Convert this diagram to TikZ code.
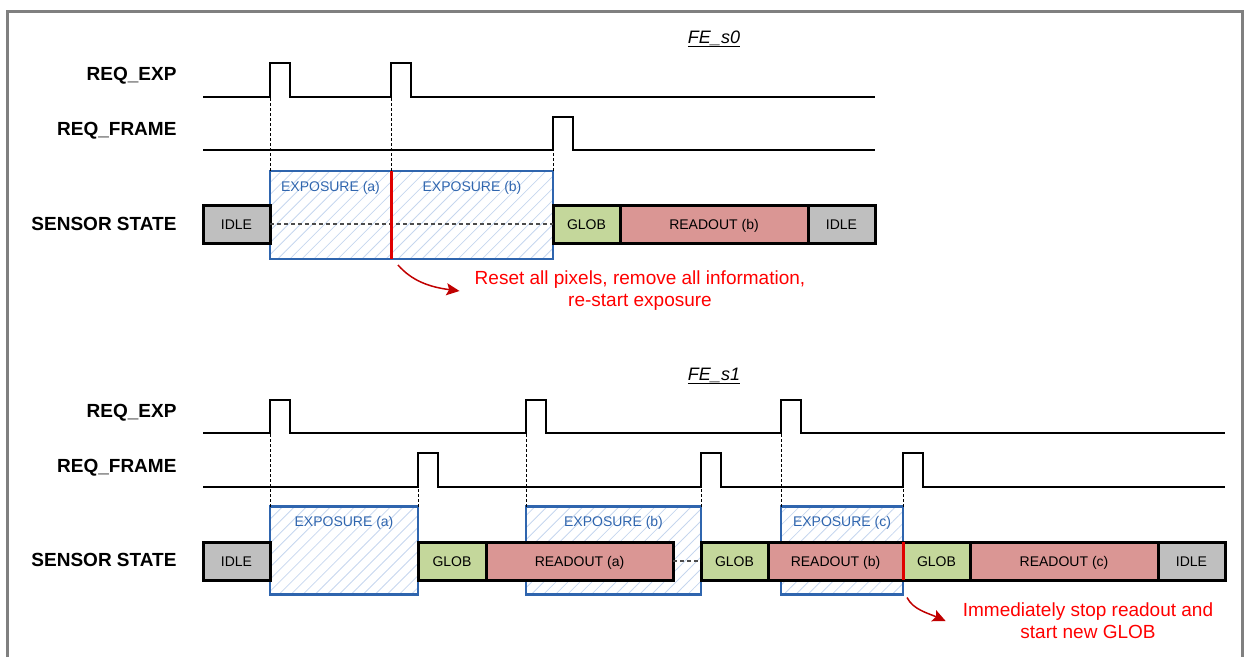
\documentclass[tikz,border=0pt]{standalone}
\usepackage{fontspec}
\setmainfont{Liberation Sans}
\usetikzlibrary{arrows.meta, positioning, patterns.meta}
\definecolor{idlegray}{HTML}{BFBFBF}
\definecolor{globgreen}{HTML}{C4D79B}
\definecolor{rdred}{HTML}{DA9694}
\definecolor{expblue}{HTML}{2F65AE}
\definecolor{hatchblue}{HTML}{C6D6EE}
\definecolor{notered}{HTML}{FF0000}
\definecolor{arrred}{HTML}{C00000}
\definecolor{cutred}{HTML}{E00000}
\definecolor{framegray}{HTML}{808080}

\begin{document}
\begin{tikzpicture}[x=1pt, y=-1pt,
    sig/.style={line width=2pt},
    guide/.style={line width=0.9pt, dash pattern=on 3pt off 2pt},
    midln/.style={line width=1.1pt, draw=black!70, dash pattern=on 4pt off 3pt},
    lbl/.style={font=\fontsize{19}{21}\selectfont\bfseries, anchor=base east},
    ttl/.style={font=\fontsize{18}{20}\selectfont\itshape, anchor=base},
    st/.style={draw, line width=3pt, outer sep=0pt, inner sep=0pt,
               minimum height=38, text height=10pt, text depth=0pt,
               font=\fontsize{14}{16}\selectfont},
    idle/.style={st, fill=idlegray},
    glob/.style={st, fill=globgreen},
    rdout/.style={st, fill=rdred},
    expo/.style={draw=expblue, line width=2.5pt, outer sep=0pt, inner sep=0pt,
                 minimum height=88,
                 pattern={Lines[angle=45, distance=8.5pt, line width=0.8pt]},
                 pattern color=hatchblue},
    explbl/.style={font=\fontsize{14}{16}\selectfont, text=expblue, inner sep=0pt},
    cutln/.style={draw=cutred, line width=3pt},
    note/.style={align=center, text=notered, inner sep=2pt,
                 font=\fontsize{19}{22}\selectfont},
    notearr/.style={draw=arrred, line width=1.5pt,
                    -{Stealth[length=13pt, width=12pt, inset=2.5pt]}}
  ]
  \useasboundingbox (0,0) rectangle (1248,657);
  \draw[framegray, line width=3pt] (7,657) -- (7,11) -- (1242,11) -- (1242,657);

  % FE_s0
  \node[ttl] (tttl) at (714,43) {\underline{FE\_s0}};
  \node[lbl] (tlE) at (180,80) {REQ\_EXP};
  \node[lbl] (tlF) at (180,135) {REQ\_FRAME};
  \node[lbl] (tlS) at (180,230) {SENSOR STATE};

  \coordinate (tE) at (203,97);
  \coordinate (tF) at (203,150);
  \draw[sig] (tE) -| (270,63) -| (290,97) -| (391,63) -| (411,97) -- (875,97);
  \draw[sig] (tF) -| (553,117) -| (573,150) -- (875,150);

  \node[expo, minimum width=121] (texpA) at (330.5,215) {};
  \node[expo, minimum width=162] (texpB) at (472,215) {};
  \node[explbl, below=10pt of texpA.north] {EXPOSURE (a)};
  \node[explbl, below=10pt of texpB.north] {EXPOSURE (b)};

  \draw[guide] (texpA.north west) -- (texpA.north west |- tE);
  \draw[guide] (texpB.north west) -- (texpB.north west |- tE);
  \draw[guide] (texpB.north east) -- (texpB.north east |- tF);

  \node[idle, minimum width=67, anchor=west] (tidle1) at (203,224) {IDLE};
  \node[glob, minimum width=67, anchor=west] (tglob) at (tidle1.east -| texpB.east) {GLOB};
  \node[rdout, minimum width=188, right=0pt of tglob] (trd) {READOUT (b)};
  \node[idle, minimum width=67, right=0pt of trd] (tidle2) {IDLE};
  \draw[midln] (tidle1.east) -- (tglob.west);
  \draw[cutln] (texpA.north east) -- (texpA.south east);

  \node[note] (tnote) at (640,291) {Reset all pixels, remove all information,\\re-start exposure};
  \draw[notearr] ([shift={(7,6)}]texpA.south east) .. controls +(14,16) and +(-30,-4) .. ([xshift=-13pt]tnote.west);

  % FE_s1
  \node[ttl] (bttl) at (714,380) {\underline{FE\_s1}};
  \node[lbl] (blE) at (180,417) {REQ\_EXP};
  \node[lbl] (blF) at (180,472) {REQ\_FRAME};
  \node[lbl] (blS) at (180,566) {SENSOR STATE};

  \coordinate (bE) at (203,433);
  \coordinate (bF) at (203,487);
  \draw[sig] (bE) -| (270,400) -| (290,433) -| (526,400) -| (546,433) -| (781,400) -| (801,433) -- (1225,433);
  \draw[sig] (bF) -| (418,453) -| (438,487) -| (701,453) -| (721,487) -| (903,453) -| (923,487) -- (1225,487);

  \node[expo, minimum width=148] (bexpA) at (344,550.5) {};
  \node[expo, minimum width=175] (bexpB) at (613.5,550.5) {};
  \node[expo, minimum width=122] (bexpC) at (842,550.5) {};
  \node[explbl, below=10pt of bexpA.north] {EXPOSURE (a)};
  \node[explbl, below=10pt of bexpB.north] {EXPOSURE (b)};
  \node[explbl, below=10pt of bexpC.north] {EXPOSURE (c)};

  \draw[guide] (bexpA.north west) -- (bexpA.north west |- bE);
  \draw[guide] (bexpA.north east) -- (bexpA.north east |- bF);
  \draw[guide] (bexpB.north west) -- (bexpB.north west |- bE);
  \draw[guide] (bexpB.north east) -- (bexpB.north east |- bF);
  \draw[guide] (bexpC.north west) -- (bexpC.north west |- bE);
  \draw[guide] (bexpC.north east) -- (bexpC.north east |- bF);

  \node[idle, minimum width=67, anchor=west] (bidle1) at (203,561) {IDLE};
  \node[glob, minimum width=68, anchor=west] (bglob1) at (bidle1.east -| bexpA.east) {GLOB};
  \node[rdout, minimum width=187, right=0pt of bglob1] (brd1) {READOUT (a)};
  \node[glob, minimum width=67, anchor=west] (bglob2) at (bidle1.east -| bexpB.east) {GLOB};
  \node[rdout, minimum width=135, right=0pt of bglob2] (brd2) {READOUT (b)};
  \node[glob, minimum width=67, right=0pt of brd2] (bglob3) {GLOB};
  \node[rdout, minimum width=188, right=0pt of bglob3] (brd3) {READOUT (c)};
  \node[idle, minimum width=67, right=0pt of brd3] (bidle2) {IDLE};
  \draw[midln] (brd1.east) -- (bglob2.west);
  \draw[cutln] (brd2.north east) -- (brd2.south east);

  \node[note] (bnote) at (1088,621) {Immediately stop readout and\\start new GLOB};
  \draw[notearr] ([shift={(4,3)}]bexpC.south east) .. controls +(6,12) and +(-18,-8) .. ([xshift=-15pt]bnote.west);
\end{tikzpicture}
\end{document}
